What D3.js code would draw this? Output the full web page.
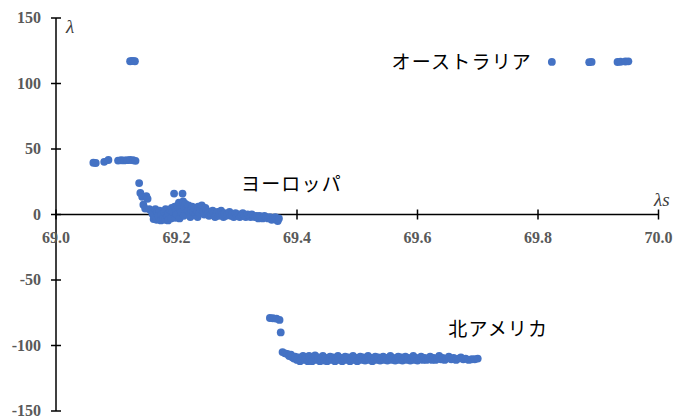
<!DOCTYPE html>
<html>
<head>
<meta charset="utf-8">
<script src="https://cdn.jsdelivr.net/npm/d3@7"></script>
<style>
  html, body { margin: 0; padding: 0; background: #fff; }
  svg { display: block; }
  .tick-label { font-family: "Liberation Serif", "Times New Roman", serif; font-weight: bold; font-size: 16px; fill: #595959; }
  .axis-title { font-family: "Liberation Serif", "Times New Roman", serif; font-style: italic; font-size: 19px; fill: #404040; }
  .region { font-family: "Noto Sans CJK JP", sans-serif; font-size: 19px; fill: #000; }
</style>
</head>
<body>
<svg id="chart" width="673" height="417"></svg>
<script>
// Axis ticks
const xTicks = [69.0, 69.2, 69.4, 69.6, 69.8, 70.0];
const yTicks = [150, 100, 50, 0, -50, -100, -150];

// Region labels (text, left edge in λs, centre in λ)
const regionLabels = [
  { text: "オーストラリア", x: 69.557, y: 116.5 },
  { text: "ヨーロッパ", x: 69.307, y: 23 },
  { text: "北アメリカ", x: 69.651, y: -88 }
];

// Australia group: [λs, λ]
const australia = [
  [69.123, 117], [69.126, 117.2], [69.129, 117.1], [69.131, 117],
  [69.823, 116.5], [69.885, 116.3], [69.889, 116.5],
  [69.932, 116.4], [69.937, 116.6], [69.945, 116.8], [69.950, 116.9]
];

// Europe group: [λs, λ]
const europe = [
  [69.062, 39.5], [69.066, 39.3], [69.080, 40.2], [69.087, 41.6],
  [69.103, 41.2], [69.108, 41.4], [69.113, 41.3], [69.118, 41.5],
  [69.123, 41.6], [69.128, 41.4], [69.132, 41.0],
  [69.138, 24], [69.140, 16.5], [69.143, 13.5], [69.150, 14], [69.152, 12],
  [69.145, 7.5], [69.148, 4.5], [69.155, 4], [69.158, 3], [69.160, 0.5],
  [69.162, -3.5], [69.163, -1.5], [69.165, 4], [69.167, -4], [69.168, 2],
  [69.170, -1], [69.172, 3], [69.174, -4.5], [69.175, 0], [69.178, -2.5],
  [69.180, 2], [69.181, -4], [69.182, 4], [69.185, -1.5], [69.186, -4.5],
  [69.187, 1], [69.190, 3], [69.191, -3], [69.192, 5], [69.194, 2],
  [69.196, 16], [69.197, 6], [69.198, -2.5], [69.199, 3], [69.200, 0],
  [69.202, 7], [69.204, 9], [69.205, -3], [69.206, 4], [69.208, 2],
  [69.210, 16], [69.211, 10], [69.212, -1], [69.213, 6], [69.215, 8],
  [69.217, 5], [69.219, 3], [69.220, 7], [69.222, 1], [69.223, -2],
  [69.224, 4], [69.226, 6], [69.228, 2], [69.230, 5], [69.232, 0],
  [69.234, 3], [69.235, -2], [69.236, 6], [69.238, 1], [69.240, 4],
  [69.242, 7], [69.244, 2], [69.246, 0], [69.248, 5], [69.250, 3],
  [69.252, 1], [69.254, -1], [69.256, 2], [69.258, 0], [69.260, 3],
  [69.262, 1], [69.264, -2], [69.266, 0], [69.268, 2], [69.270, -1],
  [69.272, 1], [69.274, 3], [69.276, 0], [69.278, -2], [69.280, 1],
  [69.282, -1], [69.285, 0], [69.288, 2], [69.290, -1], [69.292, 0],
  [69.295, -2], [69.298, 1], [69.300, -1], [69.303, 0], [69.305, -2],
  [69.308, -1], [69.310, 1], [69.313, -1], [69.315, -2], [69.318, 0],
  [69.320, -1], [69.323, -2], [69.325, 0], [69.328, -1], [69.330, -2],
  [69.333, -1], [69.336, -3], [69.338, -1], [69.340, -2], [69.343, -3],
  [69.346, -1], [69.349, -2], [69.352, -3], [69.355, -2], [69.358, -4],
  [69.361, -3], [69.364, -2], [69.366, -4], [69.368, -5], [69.370, -3]
];

// North America group: [λs, λ]
const northAmerica = [
  [69.355, -79], [69.360, -79.2], [69.366, -79.5], [69.371, -80.5],
  [69.373, -90],
  [69.376, -105], [69.380, -106], [69.384, -106.5], [69.387, -108],
  [69.390, -107], [69.392, -109], [69.395, -110], [69.397, -108.5],
  [69.400, -111], [69.403, -109], [69.405, -112], [69.408, -110],
  [69.410, -108], [69.413, -111], [69.415, -109.5], [69.418, -112],
  [69.420, -108], [69.423, -110.5], [69.425, -112], [69.428, -109],
  [69.430, -107.5], [69.433, -111], [69.435, -109], [69.438, -112],
  [69.440, -110], [69.443, -108], [69.445, -111.5], [69.448, -109.5],
  [69.450, -112], [69.453, -110], [69.455, -108.5], [69.458, -111],
  [69.460, -109], [69.463, -112], [69.465, -110.5], [69.468, -108],
  [69.470, -111], [69.473, -109.5], [69.475, -112], [69.478, -110],
  [69.480, -108.5], [69.483, -111], [69.485, -109], [69.488, -112],
  [69.490, -110], [69.493, -108], [69.495, -111], [69.498, -109.5],
  [69.500, -112], [69.503, -110.5], [69.505, -108.5], [69.508, -111],
  [69.510, -109], [69.513, -111.5], [69.515, -110], [69.518, -108],
  [69.520, -111], [69.523, -109.5], [69.525, -112], [69.528, -110],
  [69.530, -108.5], [69.533, -111], [69.535, -109], [69.538, -111.5],
  [69.540, -110], [69.543, -108.5], [69.545, -111], [69.548, -109.5],
  [69.550, -111.5], [69.553, -110], [69.555, -108], [69.558, -111],
  [69.560, -109.5], [69.563, -111.5], [69.565, -110], [69.568, -108.5],
  [69.570, -111], [69.573, -109], [69.575, -111.5], [69.578, -110],
  [69.580, -108.5], [69.583, -111], [69.585, -109.5], [69.588, -111.5],
  [69.590, -110], [69.593, -108], [69.595, -111], [69.598, -109.5],
  [69.600, -111.5], [69.603, -110], [69.606, -108.5], [69.609, -111],
  [69.612, -109.5], [69.615, -111], [69.618, -110], [69.621, -108.5],
  [69.624, -111], [69.627, -109.5], [69.630, -111], [69.633, -110],
  [69.636, -108], [69.639, -110.5], [69.642, -109.5], [69.645, -111],
  [69.648, -110], [69.652, -108.5], [69.656, -110.5], [69.660, -109.5],
  [69.664, -111], [69.668, -110], [69.672, -109], [69.676, -110.5],
  [69.680, -110], [69.685, -111], [69.690, -110.5], [69.695, -110.5],
  [69.700, -110]
];

const svg = d3.select("#chart");

const x = d3.scaleLinear().domain([69.0, 70.0]).range([56, 658.5]);
const y = d3.scaleLinear().domain([-150, 150]).range([411, 18]);

const axisColor = "#000";
const markColor = "#4472C4";

// y axis at λs = 69.0
const yAxis = svg.append("g").attr("transform", `translate(${x(69.0)},0)`);
yAxis.append("line")
  .attr("x1", 0).attr("x2", 0).attr("y1", y(150)).attr("y2", y(-150))
  .attr("stroke", axisColor).attr("stroke-width", 1.5);
yAxis.selectAll("line.tick").data(yTicks).enter().append("line")
  .attr("class", "tick")
  .attr("x1", -5).attr("x2", 5)
  .attr("y1", d => y(d)).attr("y2", d => y(d))
  .attr("stroke", axisColor).attr("stroke-width", 1.5);
yAxis.selectAll("text").data(yTicks).enter().append("text")
  .attr("class", "tick-label")
  .attr("x", -15).attr("y", d => y(d))
  .attr("dy", "0.33em")
  .attr("text-anchor", "end")
  .text(d => d);

// x axis at λ = 0
const xAxis = svg.append("g").attr("transform", `translate(0,${y(0)})`);
xAxis.append("line")
  .attr("x1", x(69.0)).attr("x2", x(70.0)).attr("y1", 0).attr("y2", 0)
  .attr("stroke", axisColor).attr("stroke-width", 1.5);
xAxis.selectAll("line.tick").data(xTicks).enter().append("line")
  .attr("class", "tick")
  .attr("x1", d => x(d)).attr("x2", d => x(d))
  .attr("y1", -5).attr("y2", 5)
  .attr("stroke", axisColor).attr("stroke-width", 1.5);
xAxis.selectAll("text").data(xTicks).enter().append("text")
  .attr("class", "tick-label")
  .attr("x", d => x(d)).attr("y", 28)
  .attr("text-anchor", "middle")
  .text(d => d.toFixed(1));

// Axis titles
svg.append("text").attr("class", "axis-title")
  .attr("x", 66).attr("y", 33)
  .text("λ");
svg.append("text").attr("class", "axis-title")
  .attr("x", 654).attr("y", 206)
  .text("λs");

// Scatter points
const allPoints = australia.concat(europe, northAmerica);
svg.append("g").selectAll("circle").data(allPoints).enter().append("circle")
  .attr("cx", d => x(d[0]))
  .attr("cy", d => y(d[1]))
  .attr("r", 3.9)
  .attr("fill", markColor);

// Region labels
svg.append("g").selectAll("text").data(regionLabels).enter().append("text")
  .attr("class", "region")
  .attr("x", d => x(d.x))
  .attr("y", d => y(d.y))
  .attr("dy", "0.35em")
  .attr("text-anchor", "start")
  .attr("letter-spacing", 1.2)
  .text(d => d.text);
</script>
</body>
</html>
